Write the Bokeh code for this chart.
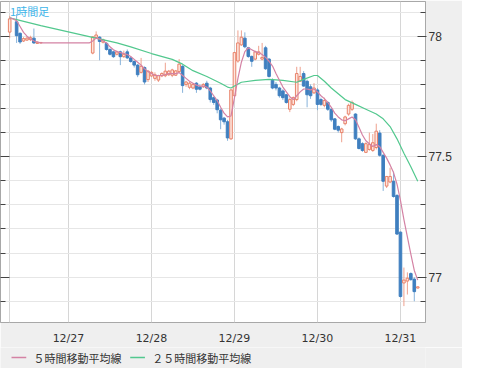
from bokeh.plotting import figure
from bokeh.layouts import column
from bokeh.models import Range1d, FixedTicker, LinearAxis, Label, ColumnDataSource
from bokeh.core.properties import value
from bokeh.embed import file_html
from bokeh.resources import INLINE

# hourly candles: hours counted from 12/27 00:00
hours = [-17, -15, -14, -13, -12, -11, -10, -9, -8,
         7, 8, 9, 10, 11, 12, 13, 14, 15, 16, 17, 18, 19, 20, 21, 22, 23,
         24, 25, 26, 27, 28, 29, 30, 31, 32, 33, 34, 35, 36, 37, 38, 39, 40,
         41, 42, 43, 44, 45, 46, 47,
         48, 49, 50, 51, 52, 53, 54, 55, 56, 57, 58, 59, 60, 61, 62, 63, 64,
         65, 66, 67, 68, 69, 70, 71,
         72, 73, 74, 75, 76, 77, 78, 79, 80, 81, 82, 83, 84, 85, 86, 87, 88,
         89, 90, 91, 92, 93, 94, 95,
         96, 97, 98, 99, 100, 101]
opens = [78.017, 78.060, 78.012, 77.980, 77.984, 77.986, 77.992, 77.970, 77.972,
         77.930, 77.995, 77.996, 77.975, 77.970, 77.945, 77.935, 77.925, 77.935, 77.915, 77.935, 77.910, 77.895, 77.880, 77.850, 77.870, 77.820,
         77.835, 77.825, 77.818, 77.835, 77.836, 77.840, 77.838, 77.838, 77.853, 77.875, 77.800, 77.788, 77.785, 77.805, 77.790, 77.790, 77.805,
         77.785, 77.745, 77.735, 77.693, 77.660, 77.645, 77.574,
         77.753, 77.897, 77.964, 77.992, 77.952, 77.916, 77.905, 77.925, 77.905, 77.952, 77.905, 77.817, 77.800, 77.785, 77.773, 77.757, 77.697,
         77.717, 77.737, 77.813, 77.845, 77.813, 77.790, 77.765,
         77.777, 77.737, 77.713, 77.725, 77.697, 77.657, 77.625, 77.600, 77.637, 77.677, 77.697, 77.677, 77.574, 77.554, 77.518, 77.530, 77.526,
         77.538, 77.598, 77.506, 77.378, 77.395, 77.398, 77.339,
         77.187, 76.976, 76.984, 77.015, 76.992, 76.955]
highs = [78.084, 78.092, 78.016, 77.996, 78.000, 78.002, 78.032, 77.978, 77.976,
         78.000, 78.020, 78.000, 77.990, 77.975, 77.950, 77.940, 77.940, 77.940, 77.940, 77.945, 77.915, 77.900, 77.885, 77.910, 77.875, 77.860,
         77.855, 77.850, 77.840, 77.850, 77.890, 77.860, 77.865, 77.860, 77.905, 77.880, 77.815, 77.810, 77.805, 77.810, 77.800, 77.805, 77.815,
         77.790, 77.750, 77.740, 77.700, 77.665, 77.653, 77.780,
         77.935, 78.024, 78.024, 78.016, 77.956, 77.920, 77.940, 77.960, 77.972, 77.960, 77.910, 77.825, 77.810, 77.790, 77.780, 77.760, 77.745,
         77.750, 77.873, 77.873, 77.855, 77.820, 77.800, 77.805,
         77.785, 77.745, 77.745, 77.730, 77.700, 77.660, 77.630, 77.620, 77.670, 77.720, 77.733, 77.680, 77.580, 77.560, 77.560, 77.600, 77.594,
         77.637, 77.610, 77.510, 77.420, 77.454, 77.438, 77.345,
         77.190, 77.040, 77.020, 77.020, 77.000, 76.962]
lows = [77.992, 77.972, 77.968, 77.976, 77.980, 77.980, 77.968, 77.968, 77.970,
        77.925, 77.990, 77.900, 77.970, 77.940, 77.920, 77.910, 77.920, 77.880, 77.910, 77.905, 77.890, 77.870, 77.830, 77.845, 77.800, 77.810,
        77.830, 77.815, 77.810, 77.830, 77.830, 77.835, 77.830, 77.835, 77.848, 77.765, 77.790, 77.780, 77.780, 77.765, 77.775, 77.785, 77.780,
        77.725, 77.715, 77.680, 77.614, 77.633, 77.566, 77.570,
        77.750, 77.890, 77.960, 77.950, 77.910, 77.873, 77.900, 77.920, 77.900, 77.860, 77.828, 77.780, 77.775, 77.745, 77.735, 77.720, 77.685,
        77.710, 77.730, 77.810, 77.790, 77.705, 77.740, 77.760,
        77.693, 77.710, 77.705, 77.690, 77.645, 77.610, 77.600, 77.560, 77.630, 77.670, 77.690, 77.570, 77.530, 77.520, 77.515, 77.525, 77.520,
        77.530, 77.500, 77.358, 77.370, 77.390, 77.330, 77.175,
        76.915, 76.880, 76.928, 76.985, 76.900, 76.953]
closes = [78.072, 78.002, 77.976, 77.990, 77.992, 77.994, 77.972, 77.975, 77.974,
          77.997, 78.005, 77.978, 77.985, 77.945, 77.925, 77.915, 77.935, 77.915, 77.925, 77.910, 77.895, 77.880, 77.840, 77.875, 77.810, 77.855,
          77.850, 77.840, 77.836, 77.845, 77.855, 77.855, 77.860, 77.856, 77.884, 77.795, 77.810, 77.805, 77.800, 77.780, 77.780, 77.800, 77.785,
          77.737, 77.725, 77.695, 77.653, 77.645, 77.578, 77.777,
          77.932, 77.972, 77.996, 77.956, 77.916, 77.896, 77.935, 77.935, 77.912, 77.865, 77.833, 77.785, 77.785, 77.753, 77.745, 77.725, 77.737,
          77.745, 77.845, 77.833, 77.793, 77.757, 77.753, 77.785,
          77.717, 77.717, 77.733, 77.697, 77.653, 77.614, 77.610, 77.615, 77.665, 77.713, 77.725, 77.574, 77.534, 77.526, 77.554, 77.550, 77.558,
          77.606, 77.506, 77.398, 77.418, 77.418, 77.335, 77.179,
          76.920, 76.988, 76.996, 76.990, 76.940, 76.960]

# 5-hour moving average
ma5_hours = [-17, -16, -15, -14, -13, -12, -11, -10, -9, -8, 6, 7, 8, 9, 10, 11, 12, 13, 14, 15, 16, 17,
             18, 19, 20, 21, 22, 23, 24, 25, 26, 27, 28, 29, 30, 31, 32, 33, 34, 35, 36, 37, 38, 39,
             40, 41, 42, 43, 44, 45, 46, 47, 48, 49, 50, 51, 52, 53, 54, 55, 56, 57, 58, 59, 60, 61,
             62, 63, 64, 65, 66, 67, 68, 69, 70, 71, 72, 73, 74, 75, 76, 77, 78, 79, 80, 81, 82, 83,
             84, 85, 86, 87, 88, 89, 90, 91, 92, 93, 94, 95, 96, 97, 98, 99, 100, 101]
ma5_values = [78.076, 78.072, 78.064, 78.040, 78.016, 78.000, 77.988, 77.980, 77.976, 77.972, 77.972, 77.980,
              77.992, 77.988, 77.980, 77.972, 77.956, 77.944, 77.936, 77.932, 77.928, 77.924, 77.916, 77.904,
              77.892, 77.880, 77.865, 77.853, 77.845, 77.837, 77.837, 77.837, 77.841, 77.845, 77.845, 77.845,
              77.849, 77.837, 77.825, 77.813, 77.805, 77.797, 77.793, 77.793, 77.789, 77.773, 77.753, 77.733,
              77.705, 77.681, 77.665, 77.669, 77.745, 77.825, 77.892, 77.936, 77.952, 77.944, 77.936, 77.932,
              77.924, 77.912, 77.896, 77.876, 77.845, 77.817, 77.789, 77.769, 77.749, 77.737, 77.753, 77.769,
              77.781, 77.781, 77.777, 77.781, 77.769, 77.753, 77.741, 77.725, 77.705, 77.681, 77.665, 77.653,
              77.649, 77.657, 77.665, 77.653, 77.622, 77.590, 77.566, 77.554, 77.542, 77.550, 77.542, 77.518,
              77.494, 77.466, 77.434, 77.386, 77.319, 77.239, 77.167, 77.096, 77.028, 76.988]

# 25-hour moving average
ma25_hours = [-17, -8, 6, 14, 18, 24, 30, 33, 36, 40, 44, 46, 47, 48, 50, 54, 58, 62, 66, 68, 71, 72,
              74, 76, 78, 80, 83, 86, 89, 91, 93, 95, 97, 99, 101]
ma25_values = [78.076, 78.044, 77.998, 77.972, 77.956, 77.928, 77.904, 77.884, 77.857, 77.833, 77.805,
               77.789, 77.785, 77.793, 77.809, 77.817, 77.821, 77.817, 77.809, 77.821, 77.837, 77.837,
               77.813, 77.785, 77.761, 77.737, 77.717, 77.697, 77.677, 77.657, 77.625, 77.574, 77.514,
               77.458, 77.398]

day_ticks = [0, 24, 48, 72, 96]
day_labels = ["12/27", "12/28", "12/29", "12/30", "12/31"]
start_hour = [-17]
price_ticks = [77.0, 77.5, 78.0]
price_labels = ["77", "77.5", "78"]
grid_levels = [76.9, 77.0, 77.1, 77.2, 77.3, 77.4, 77.5, 77.6, 77.7, 77.8, 77.9, 78.0, 78.1]
minor_levels = [76.9, 77.1, 77.2, 77.3, 77.4, 77.6, 77.7, 77.8, 77.9, 78.1]
legend_labels = ["５時間移動平均線", "２５時間移動平均線"]

MA5_COLOR = "#d482a4"
MA25_COLOR = "#52c88e"
UP_LINE = "#e8826a"
UP_FILL = "#fde6de"
UP_WICK = "#eea18e"
DN_FILL = "#3f7fbf"
DN_WICK = "#86b2da"
PANEL = "#efefef"

p = figure(width=462, height=347,
           x_range=Range1d(-19.66, 103.24), y_range=Range1d(76.812, 78.144),
           y_axis_location="right", toolbar_location=None, output_backend="svg",
           min_border_left=0, min_border_right=37, min_border_top=1, min_border_bottom=18,
           background_fill_color="white", border_fill_color=PANEL,
           outline_line_color="#a8a8a8")

# right axis
yax = p.yaxis[0]
yax.ticker = FixedTicker(ticks=price_ticks, minor_ticks=minor_levels)
yax.major_label_overrides = {t: s for t, s in zip(price_ticks, price_labels)}
yax.major_tick_in = 8
yax.major_tick_out = 1
yax.minor_tick_in = 5
yax.minor_tick_out = 0
yax.major_tick_line_color = "#444444"
yax.minor_tick_line_color = "#444444"
yax.axis_line_color = "#a8a8a8"
yax.major_label_standoff = 2
yax.major_label_text_font = "Liberation Sans"
yax.major_label_text_font_size = "12px"
yax.major_label_text_color = "#333333"

# left axis: ticks only
lax = LinearAxis(ticker=FixedTicker(ticks=price_ticks, minor_ticks=minor_levels),
                 major_label_overrides={t: "" for t in price_ticks},
                 major_label_text_font_size="0px", major_label_standoff=0,
                 major_tick_in=9, major_tick_out=0, minor_tick_in=5, minor_tick_out=0,
                 major_tick_line_color="#444444", minor_tick_line_color="#444444",
                 axis_line_color="#a8a8a8")
p.add_layout(lax, "left")

# bottom axis
xax = p.xaxis[0]
xax.ticker = FixedTicker(ticks=day_ticks)
xax.major_label_overrides = {t: s for t, s in zip(day_ticks, day_labels)}
xax.major_tick_line_color = None
xax.minor_tick_line_color = None
xax.axis_line_color = None
xax.major_label_standoff = 3
xax.major_label_text_font = "DejaVu Sans"
xax.major_label_text_font_size = "11px"
xax.major_label_text_color = "#333333"

p.ygrid.ticker = FixedTicker(ticks=grid_levels)
p.ygrid.grid_line_color = "#e6e6e6"
p.xgrid.ticker = FixedTicker(ticks=start_hour + day_ticks)
p.xgrid.grid_line_color = "#d6d6d6"

# candles
up = [i for i in range(len(hours)) if closes[i] >= opens[i]]
dn = [i for i in range(len(hours)) if closes[i] < opens[i]]

def pick(idx):
    return ColumnDataSource(dict(
        x=[hours[i] for i in idx],
        hi=[highs[i] for i in idx],
        lo=[lows[i] for i in idx],
        top=[max(opens[i], closes[i]) for i in idx],
        bot=[min(opens[i], closes[i]) for i in idx],
    ))

src_up = pick(up)
src_dn = pick(dn)
p.segment(x0="x", y0="hi", x1="x", y1="lo", source=src_dn, line_color=DN_WICK, line_width=1)
p.segment(x0="x", y0="hi", x1="x", y1="lo", source=src_up, line_color=UP_WICK, line_width=1)
p.vbar(x="x", width=0.75, top="top", bottom="bot", source=src_dn,
       fill_color=DN_FILL, line_color=DN_FILL, line_width=1)
p.vbar(x="x", width=0.75, top="top", bottom="bot", source=src_up,
       fill_color=UP_FILL, line_color=UP_LINE, line_width=1)

p.line(ma25_hours, ma25_values, line_color=MA25_COLOR, line_width=1.2)
p.line(ma5_hours, ma5_values, line_color=MA5_COLOR, line_width=1.2)

p.add_layout(Label(x=-16.9, y=78.138, text="1時間足", text_font="Noto Sans CJK JP",
                   text_font_size="11px", text_color="#3db5ea", text_baseline="top"))

# legend strip below the chart (pixel coordinates of the strip)
q = figure(width=462, height=21, x_range=Range1d(0, 462), y_range=Range1d(0, 21),
           x_axis_type=None, y_axis_type=None, toolbar_location=None, output_backend="svg",
           min_border=0, background_fill_color=PANEL, border_fill_color=PANEL,
           outline_line_color=None)
q.xgrid.visible = False
q.ygrid.visible = False
q.segment(x0=[12], y0=[11], x1=[28], y1=[11], line_color=MA5_COLOR, line_width=1.5)
q.segment(x0=[141], y0=[11], x1=[157], y1=[11], line_color=MA25_COLOR, line_width=1.5)
q.text(x=[36, 165], y=[11, 11], text=legend_labels, text_font=value("Noto Sans CJK JP"),
       text_font_size="11px", text_color="#333333", text_baseline="middle")

layout = column(p, q, spacing=0)

open("out.html", "w").write(file_html(layout, INLINE))
